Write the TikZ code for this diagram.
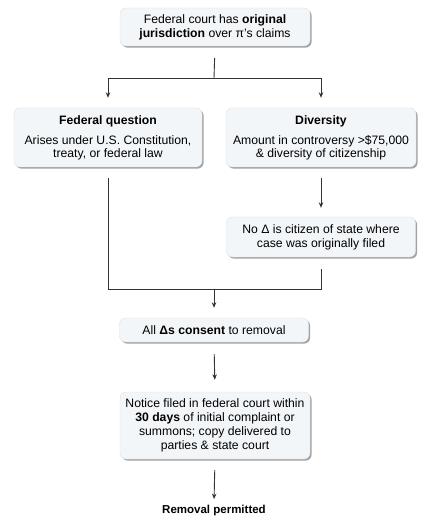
\documentclass[tikz,border=0pt]{standalone}
\usepackage{fontspec}
\setmainfont{Liberation Sans}
\usetikzlibrary{shadows,arrows.meta}
\definecolor{boxfill}{HTML}{F3F6F9}
\definecolor{boxline}{HTML}{DDE2E7}
\definecolor{linec}{HTML}{333333}
\begin{document}
\begin{tikzpicture}[x=1pt,y=-1pt,
  box/.style={draw=boxline, line width=0.4pt, fill=boxfill, rounded corners=6pt,
    align=center, font=\fontsize{12.2}{13.8}\selectfont, inner sep=0pt,
    drop shadow={shadow xshift=1.6pt, shadow yshift=-1.6pt, fill=black!55, opacity=0.65}},
  conn/.style={draw=linec, line width=0.9pt},
  arr/.style={conn, -{Stealth[length=5.5pt,width=4.5pt]}}]
\useasboundingbox (0,0) rectangle (424,518);
\fill[white] (0,0) rectangle (424,518);

\node[box, minimum width=190pt, minimum height=38pt] (top) at (215,27)
  {Federal court has \textbf{original}\\ \textbf{jurisdiction} over π’s claims};
\node[box, minimum width=188pt, minimum height=59pt] (fq) at (108,137.5)
  {\textbf{Federal question}\\[7pt] Arises under U.S. Constitution,\\[-1.5pt] treaty, or federal law};
\node[box, minimum width=190pt, minimum height=59pt] (div) at (321,137.5)
  {\textbf{Diversity}\\[7pt] Amount in controversy >\$75,000\\[-1.5pt] \& diversity of citizenship};
\node[box, minimum width=189pt, minimum height=40pt] (nod) at (321,237)
  {No Δ is citizen of state where\\ case was originally filed};
\node[box, minimum width=189pt, minimum height=24pt] (cons) at (214,330)
  {All \textbf{Δs consent} to removal};
\node[box, minimum width=190pt, minimum height=67pt] (note) at (215,425.5)
  {Notice filed in federal court within\\ \textbf{30 days} of initial complaint or\\ summons; copy delivered to\\ parties \& state court};
\node[font=\fontsize{11.5}{13.8}\selectfont\bfseries] (rem) at (214,511) {Removal permitted};

\coordinate (j1) at (214,78);
\coordinate (j2) at (214,289);

\draw[conn, shorten <=12pt] (top.south) -- (j1);
\draw[arr, shorten >=10pt] (j1) -| (fq.north);
\draw[arr, shorten >=10pt] (j1) -| (div.north);
\draw[arr, shorten <=11pt, shorten >=9pt] (div.south) -- (nod.north);
\draw[conn, shorten <=11pt] (fq.south) |- (j2);
\draw[conn, shorten <=12pt] (nod.south) |- (j2);
\draw[arr, shorten >=10pt] (j2) -- (cons.north);
\draw[arr, shorten <=12pt, shorten >=12pt] (cons.south) -- (note.north);
\draw[arr, shorten <=11pt, shorten >=3pt] (note.south) -- (rem.north);
\end{tikzpicture}
\end{document}
